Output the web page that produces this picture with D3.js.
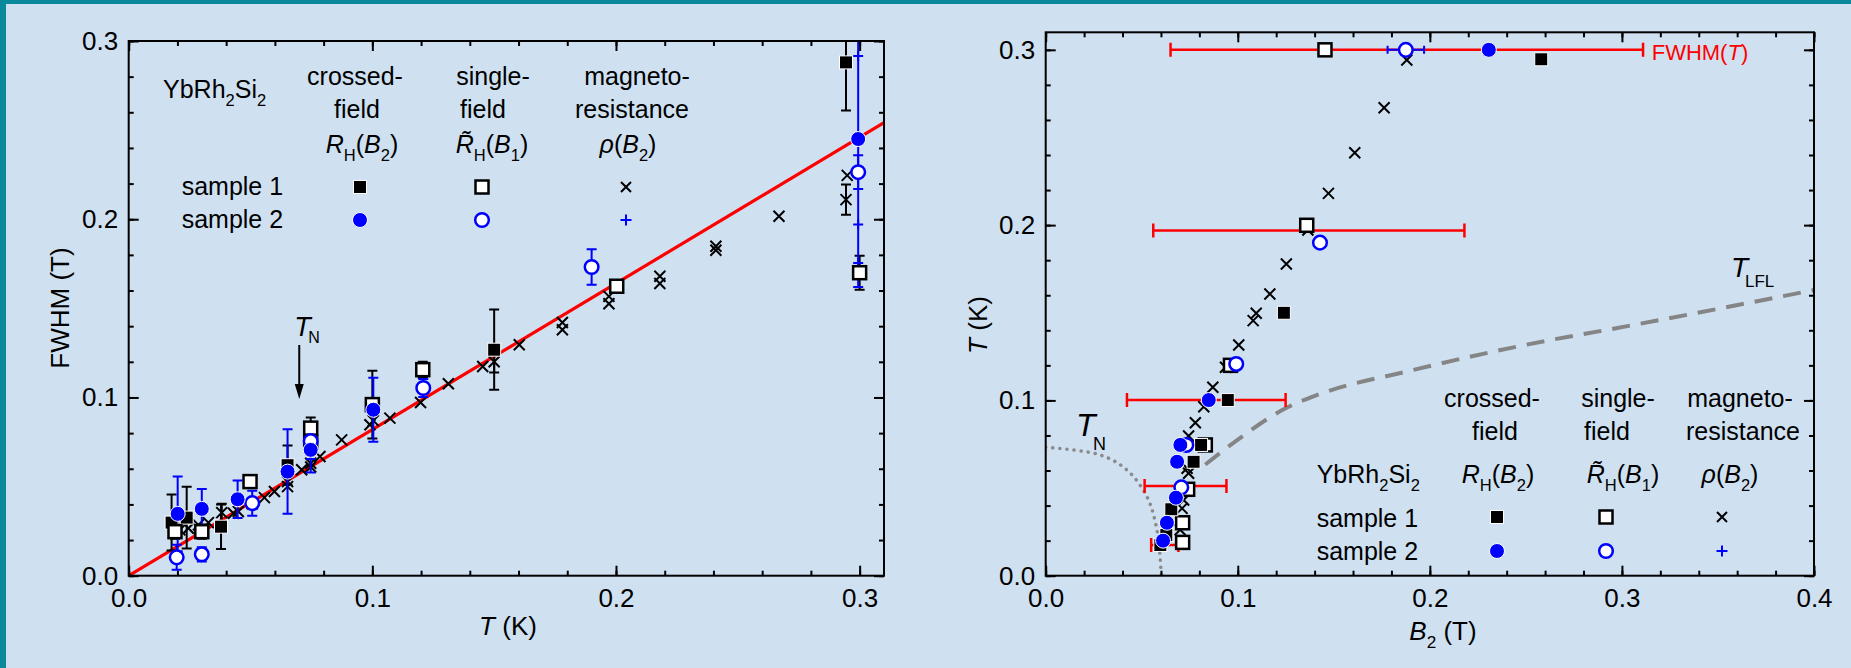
<!DOCTYPE html>
<html>
<head>
<meta charset="utf-8">
<script src="https://cdn.jsdelivr.net/npm/d3@7"></script>
<style>
body { margin: 0; background: #cfe0f1; }
svg { display: block; }
text { font-family: Arial, "Liberation Sans", sans-serif; }
</style>
</head>
<body>
<script>
// ---- left panel: FWHM vs T   [T, FWHM, err]
var s1Crossed = [[0.0176,0.0298,0.0157],[0.0238,0.0326,0.0173],[0.0379,0.0275,0.0125],[0.0652,0.062,0.011],
                 [0.15,0.1268,0.0225],[0.2944,0.288,0.027]];
var s2Crossed = [[0.0201,0.0347,0.021],[0.030,0.0375,0.0112],[0.0447,0.0429,0.0105],[0.0652,0.0584,0.0237],
                 [0.0747,0.0706,0.0127],[0.1004,0.0931,0.018],[0.2994,0.245,0.083]];
var s1Single = [[0.019,0.0247,0.004],[0.030,0.0247,0.004],[0.0498,0.0528,0.003],[0.0747,0.0828,0.006],
                [0.0747,0.075,0.006],[0.1,0.096,0.019],[0.1207,0.1156,0.0045],[0.2003,0.1624,0.003],[0.3,0.170,0.0095]];
var s2Single = [[0.0197,0.0103,0.007],[0.030,0.012,0.004],[0.0507,0.0407,0.007],[0.0747,0.0755,0.010],
                [0.1209,0.1053,0.005],[0.190,0.1732,0.010],[0.2994,0.2264,0.0095]];
var s1MR = [[0.021,0.0257,0],[0.0245,0.0266,0],[0.0286,0.0285,0],[0.0327,0.0298,0],[0.0382,0.0354,0.005],
            [0.043,0.035,0],[0.045,0.036,0],[0.0507,0.0403,0],[0.0557,0.0438,0],[0.0598,0.0472,0],
            [0.0652,0.0528,0],[0.0652,0.050,0],[0.071,0.0594,0],[0.0747,0.0631,0],[0.0747,0.061,0],
            [0.0785,0.0669,0],[0.0874,0.0762,0],[0.099,0.0847,0],[0.1004,0.087,0],[0.1072,0.0884,0],
            [0.1198,0.0972,0],[0.1312,0.1077,0],[0.1453,0.1174,0],[0.15,0.120,0.006],[0.1603,0.1296,0],
            [0.178,0.1421,0],[0.178,0.138,0],[0.1971,0.1567,0],[0.1971,0.1526,0],[0.218,0.168,0],
            [0.218,0.1639,0],[0.241,0.1848,0],[0.241,0.1826,0],[0.2669,0.2017,0],[0.2944,0.211,0.0085],
            [0.2949,0.2246,0]];
var s2MR = [[0.2994,0.2916],[0.2994,0.197],[0.2994,0.1755]];
var fitSlope = 0.82;   // red line FWHM = a*T
var tnLeft = 0.07;

// ---- right panel: T vs B2   [B2, T]
var r1Crossed = [[0.0597,0.0175],[0.0628,0.0232],[0.0654,0.0379],[0.077,0.065],[0.0809,0.0746],
                 [0.0948,0.1002],[0.124,0.150],[0.258,0.2946]];
var r2Crossed = [[0.0611,0.02],[0.0631,0.0302],[0.0678,0.0445],[0.0684,0.065],[0.0701,0.0746],
                 [0.0849,0.1002],[0.2307,0.3]];
var r1Single = [[0.0713,0.019],[0.0713,0.0302],[0.0739,0.0493],[0.0831,0.0746],[0.0962,0.12],
                [0.1359,0.1999],[0.1454,0.3]];
var r2Single = [[0.0706,0.0504],[0.0732,0.0746],[0.0992,0.1208],[0.1428,0.19],[0.1875,0.3]];
var r1MR = [[0.0700,0.0262],[0.071,0.0384],[0.0718,0.0432],[0.0736,0.0613],[0.0744,0.0584],[0.0744,0.0797],
            [0.0779,0.0873],[0.0823,0.0964],[0.087,0.1075],[0.0936,0.1189],[0.1005,0.1316],[0.108,0.1455],
            [0.1096,0.1497],[0.1167,0.1607],[0.1253,0.1778],[0.1365,0.1972],[0.1472,0.2181],[0.1609,0.2413],
            [0.1762,0.267],[0.188,0.2942]];
var r2Err = [[0.1875,0.3,0.0095]];
// FWHM(T) bars  [centre B2, T, half width]
var fwhmBars = [[0.188,0.3,0.123],[0.137,0.197,0.081],[0.0836,0.1002,0.0413],[0.0728,0.0512,0.0213],[0.062,0.0175,0.0071]];
var tnLine = [[0,0.0733],[0.0283,0.0689],[0.0423,0.0603],[0.0527,0.0451],[0.0579,0.0261],[0.0602,0.0014],[0.0604,0]];
var tlflLine = [[0.0831,0.0634],[0.0997,0.0774],[0.1249,0.0955],[0.1414,0.1031],[0.19,0.117],[0.263,0.1345],
                [0.291,0.140],[0.40,0.163]];

var W = 1851, H = 668;
var svg = d3.select("body").append("svg").attr("width", W).attr("height", H);
svg.append("rect").attr("width", W).attr("height", H).attr("fill", "#cfe0f1");
svg.append("rect").attr("width", W).attr("height", 4).attr("fill", "#0a889c");
svg.append("rect").attr("width", 6).attr("height", H).attr("fill", "#0a889c");

var BLUE = "#0000ff", RED = "#ff0000";

function rich(g, x, y, parts, size, anchor, fill) {
    var t = g.append("text").attr("x", x).attr("y", y).attr("font-size", size)
        .attr("text-anchor", anchor || "start").attr("fill", fill || "#000");
    var shift = 0;
    parts.forEach(function (p) {
        var s = t.append("tspan").text(p[0]);
        var f = p[1] || "";
        var target = f.indexOf("s") > -1 ? size * 0.3 : 0;
        if (target !== shift) { s.attr("dy", target - shift); shift = target; }
        if (f.indexOf("s") > -1) s.attr("font-size", size * 0.66);
        if (f.indexOf("i") > -1) s.attr("font-style", "italic");
    });
    return t;
}

function frame(g, x, y, xmax, ymax) {
    var X0 = x.range()[0], X1 = x.range()[1], Y0 = y.range()[0], Y1 = y.range()[1];
    var major = d3.range(0, xmax + 1e-9, 0.1), minor = d3.range(0, xmax + 1e-9, 0.02);
    var majorY = d3.range(0, ymax + 1e-9, 0.1), minorY = d3.range(0, ymax + 1e-9, 0.02);
    function style(a) {
        a.select(".domain").remove();
        a.attr("font-family", null);
        a.selectAll("line").attr("stroke-width", 2);
        a.selectAll("text").attr("font-size", 26);
    }
    g.append("g").attr("transform", "translate(0," + Y0 + ")")
        .call(d3.axisBottom(x).tickValues(minor).tickSize(-5).tickFormat("")).call(style);
    g.append("g").attr("transform", "translate(0," + Y0 + ")")
        .call(d3.axisBottom(x).tickValues(major).tickSize(-10).tickPadding(12.5).tickFormat(d3.format(".1f"))).call(style);
    g.append("g").attr("transform", "translate(0," + Y1 + ")")
        .call(d3.axisTop(x).tickValues(minor).tickSize(-5).tickFormat("")).call(style);
    g.append("g").attr("transform", "translate(0," + Y1 + ")")
        .call(d3.axisTop(x).tickValues(major).tickSize(-10).tickFormat("")).call(style);
    g.append("g").attr("transform", "translate(" + X0 + ",0)")
        .call(d3.axisLeft(y).tickValues(minorY).tickSize(-5).tickFormat("")).call(style);
    g.append("g").attr("transform", "translate(" + X0 + ",0)")
        .call(d3.axisLeft(y).tickValues(majorY).tickSize(-10).tickPadding(10.5).tickFormat(d3.format(".1f"))).call(style);
    g.append("g").attr("transform", "translate(" + X1 + ",0)")
        .call(d3.axisRight(y).tickValues(minorY).tickSize(-5).tickFormat("")).call(style);
    g.append("g").attr("transform", "translate(" + X1 + ",0)")
        .call(d3.axisRight(y).tickValues(majorY).tickSize(-10).tickFormat("")).call(style);
    g.append("rect").attr("x", X0).attr("y", Y1).attr("width", X1 - X0).attr("height", Y0 - Y1)
        .attr("fill", "none").attr("stroke", "#000").attr("stroke-width", 2);
}

function squares(g, data, x, y, filled) {
    g.selectAll(null).data(data).enter().append("rect")
        .attr("x", function (d) { return x(d[0]) - 6.5; })
        .attr("y", function (d) { return y(d[1]) - 6.5; })
        .attr("width", 13).attr("height", 13)
        .attr("fill", filled ? "#000" : "#fff")
        .attr("stroke", filled ? "#fff" : "#000")
        .attr("stroke-width", filled ? 1 : 2.5);
}
function circles(g, data, x, y, filled) {
    g.selectAll(null).data(data).enter().append("circle")
        .attr("cx", function (d) { return x(d[0]); })
        .attr("cy", function (d) { return y(d[1]); })
        .attr("r", filled ? 7.5 : 6.8)
        .attr("fill", filled ? BLUE : "#fff")
        .attr("stroke", filled ? "#fff" : BLUE)
        .attr("stroke-width", filled ? 1 : 2.5);
}
function crosses(g, data, x, y, plus, color, s) {
    s = s || 5.5;
    g.selectAll(null).data(data).enter().append("path")
        .attr("d", function (d) {
            var cx = x(d[0]), cy = y(d[1]);
            if (plus) return "M" + (cx - s) + "," + cy + "H" + (cx + s) + "M" + cx + "," + (cy - s) + "V" + (cy + s);
            return "M" + (cx - s) + "," + (cy - s) + "L" + (cx + s) + "," + (cy + s) +
                "M" + (cx - s) + "," + (cy + s) + "L" + (cx + s) + "," + (cy - s);
        })
        .attr("fill", "none").attr("stroke", color).attr("stroke-width", 2);
}
function vErr(g, data, x, y, color) {
    data.filter(function (d) { return d[2] > 0; }).forEach(function (d) {
        var cx = x(d[0]), a = y(d[1] - d[2]), b = y(d[1] + d[2]);
        g.append("path").attr("d", "M" + cx + "," + a + "V" + b + "M" + (cx - 5) + "," + a + "H" + (cx + 5) +
            "M" + (cx - 5) + "," + b + "H" + (cx + 5))
            .attr("fill", "none").attr("stroke", color).attr("stroke-width", 2);
    });
}
function hErr(g, data, x, y, color, cap, w) {
    data.forEach(function (d) {
        var cy = y(d[1]), a = x(d[0] - d[2]), b = x(d[0] + d[2]);
        g.append("path").attr("d", "M" + a + "," + cy + "H" + b + "M" + a + "," + (cy - cap) + "V" + (cy + cap) +
            "M" + b + "," + (cy - cap) + "V" + (cy + cap))
            .attr("fill", "none").attr("stroke", color).attr("stroke-width", w);
    });
}

function legend(g, L) {
    rich(g, L.name[0], L.name[1], [["YbRh"], ["2", "s"], ["Si"], ["2", "s"]], 25);
    g.append("text").attr("x", L.rows[0]).attr("y", L.rows[1]).attr("font-size", 25).text("sample 1");
    g.append("text").attr("x", L.rows[0]).attr("y", L.rows[1] + L.dy).attr("font-size", 25).text("sample 2");
    var hdr = [["crossed-", "field", [["R", "i"], ["H", "s"], ["("], ["B", "i"], ["2", "s"], [")"]]],
               ["single-", "field", [["R\u0303", "i"], ["H", "s"], ["("], ["B", "i"], ["1", "s"], [")"]]],
               ["magneto-", "resistance", [["\u03c1", "i"], ["("], ["B", "i"], ["2", "s"], [")"]]]];
    hdr.forEach(function (h, i) {
        var c = L.cols[i];
        g.append("text").attr("x", c[0]).attr("y", L.hy[0]).attr("font-size", 25).attr("text-anchor", "middle").text(h[0]);
        g.append("text").attr("x", c[1]).attr("y", L.hy[1]).attr("font-size", 25).attr("text-anchor", "middle").text(h[1]);
        rich(g, c[2], L.hy[2], h[2], 25, "middle");
    });
    var id = function (v) { return v; };
    var m = L.mx, my = L.my;
    squares(g, [[m[0], my[0]]], id, id, true);
    circles(g, [[m[0], my[1]]], id, id, true);
    squares(g, [[m[1], my[0]]], id, id, false);
    circles(g, [[m[1], my[1]]], id, id, false);
    crosses(g, [[m[2], my[0]]], id, id, false, "#000", 5);
    crosses(g, [[m[2], my[1]]], id, id, true, BLUE, 5.5);
}

// ================= left panel
var xL = d3.scaleLinear().domain([0, 0.31]).range([128.7, 884]);
var yL = d3.scaleLinear().domain([0, 0.3]).range([575.7, 41]);
var gL = svg.append("g");
svg.append("clipPath").attr("id", "clipL").append("rect")
    .attr("x", 128.7).attr("y", 41).attr("width", 884 - 128.7).attr("height", 575.7 - 41);
var dL = gL.append("g").attr("clip-path", "url(#clipL)");
dL.append("line").attr("x1", xL(0)).attr("y1", yL(0)).attr("x2", xL(0.31)).attr("y2", yL(0.31 * fitSlope))
    .attr("stroke", RED).attr("stroke-width", 3.2);
vErr(dL, s1MR, xL, yL, "#000");
crosses(dL, s1MR, xL, yL, false, "#000");
vErr(dL, s1Crossed, xL, yL, "#000");
vErr(dL, s1Single, xL, yL, "#000");
vErr(dL, s2Crossed, xL, yL, BLUE);
vErr(dL, s2Single, xL, yL, BLUE);
crosses(dL, s2MR, xL, yL, true, BLUE, 5);
squares(dL, s1Crossed, xL, yL, true);
squares(dL, s1Single, xL, yL, false);
circles(dL, s2Single, xL, yL, false);
circles(dL, s2Crossed, xL, yL, true);
frame(gL, xL, yL, 0.31, 0.3);

legend(gL, {name: [163, 98], rows: [181.7, 195], dy: 33, hy: [85, 118, 153],
    cols: [[355, 357, 362], [493, 483, 492], [637, 632, 628]], mx: [360, 482, 626], my: [187, 220]});

// T_N arrow
rich(gL, xL(tnLeft) - 5, 336, [["T", "i"]], 27);
gL.append("text").attr("x", xL(tnLeft) + 9).attr("y", 343).attr("font-size", 16).text("N");
gL.append("line").attr("x1", xL(tnLeft)).attr("x2", xL(tnLeft)).attr("y1", 345).attr("y2", 388)
    .attr("stroke", "#000").attr("stroke-width", 2);
gL.append("path").attr("d", "M" + (xL(tnLeft) - 4.5) + ",384L" + xL(tnLeft) + ",399L" + (xL(tnLeft) + 4.5) + ",384Z")
    .attr("fill", "#000");

gL.append("text").attr("transform", "translate(69,308) rotate(-90)").attr("font-size", 26)
    .attr("text-anchor", "middle").text("FWHM (T)");
rich(gL, 508, 635, [["T", "i"], [" (K)"]], 26, "middle");

// ================= right panel
var xR = d3.scaleLinear().domain([0, 0.4]).range([1045.7, 1814]);
var yR = d3.scaleLinear().domain([0, 0.31]).range([575.7, 32.3]);
var gR = svg.append("g");
svg.append("clipPath").attr("id", "clipR").append("rect")
    .attr("x", 1045.7).attr("y", 32.3).attr("width", 1814 - 1045.7).attr("height", 575.7 - 32.3);
var dR = gR.append("g").attr("clip-path", "url(#clipR)");
var lineTN = d3.line().x(function (d) { return xR(d[0]); }).y(function (d) { return yR(d[1]); }).curve(d3.curveCatmullRom);
var lineLFL = d3.line().x(function (d) { return xR(d[0]); }).y(function (d) { return yR(d[1]); }).curve(d3.curveMonotoneX);
dR.append("path").attr("d", lineTN(tnLine)).attr("fill", "none").attr("stroke", "#8a8a8a")
    .attr("stroke-width", 3.5).attr("stroke-linecap", "round").attr("stroke-dasharray", "0.1,7");
dR.append("path").attr("d", lineLFL(tlflLine)).attr("fill", "none").attr("stroke", "#858585")
    .attr("stroke-width", 4).attr("stroke-dasharray", "18,11");
hErr(dR, fwhmBars, xR, yR, RED, 7, 2.5);
crosses(dR, r1MR, xR, yR, false, "#000");
hErr(dR, r2Err, xR, yR, BLUE, 4, 2);
squares(dR, r1Single, xR, yR, false);
squares(dR, r1Crossed, xR, yR, true);
circles(dR, r2Single, xR, yR, false);
circles(dR, r2Crossed, xR, yR, true);
frame(gR, xR, yR, 0.4, 0.31);

legend(gR, {name: [1316.7, 483], rows: [1316.7, 527], dy: 33, hy: [407, 440, 483],
    cols: [[1492, 1495, 1498], [1618, 1607, 1623], [1740, 1743, 1730]], mx: [1497, 1606, 1722], my: [517, 551]});

rich(gR, 1651.7, 60, [["FWHM("], ["T", "i"], [")"]], 22, "start", RED);
gR.append("text").attr("x", 1076).attr("y", 436).attr("font-size", 32).attr("font-style", "italic").text("T");
gR.append("text").attr("x", 1093).attr("y", 450).attr("font-size", 18).text("N");
gR.append("text").attr("x", 1731).attr("y", 277).attr("font-size", 28).attr("font-style", "italic").text("T");
gR.append("text").attr("x", 1745).attr("y", 287).attr("font-size", 17).text("LFL");

gR.append("text").attr("transform", "translate(987,325) rotate(-90)").attr("font-size", 26)
    .attr("text-anchor", "middle").call(function (t) {
        t.append("tspan").attr("font-style", "italic").text("T");
        t.append("tspan").text(" (K)");
    });
rich(gR, 1443, 640, [["B", "i"], ["2", "s"], [" (T)"]], 26, "middle");
</script>
</body>
</html>
